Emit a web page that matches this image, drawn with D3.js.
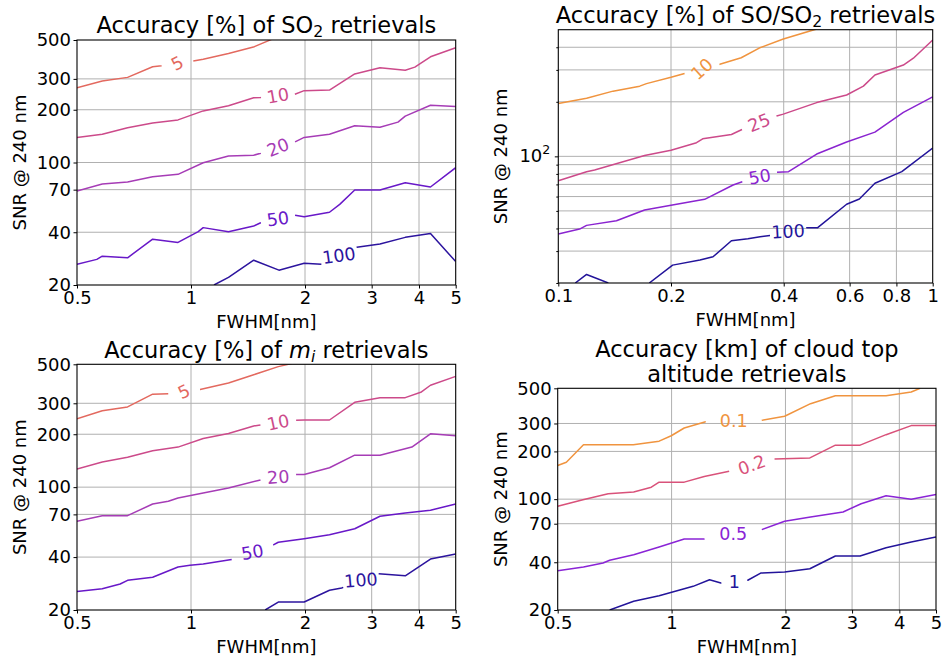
<!DOCTYPE html>
<html>
<head>
<meta charset="utf-8">
<script src="https://cdn.jsdelivr.net/npm/d3@7"></script>
<style>
body { margin: 0; background: #fff; }
svg text { font-family: "DejaVu Sans", sans-serif; }
</style>
</head>
<body>
<svg id="chart" width="944" height="660"></svg>
<script>
// ---- datos: [FWHM nm, SNR] ----

// SO2
const so2_5 = [[0.5,267],[0.583,292],[0.68,306],[0.792,352],[0.836,356],[1.013,379],[1.077,388],[1.256,419],[1.47,458],[1.633,504]];
const so2_10 = [[0.5,139],[0.583,145],[0.68,158],[0.792,168],[0.924,175],[1.077,197],[1.256,211],[1.464,234],[1.528,235],[1.88,245],[1.99,257],[2.321,259],[2.706,320],[3.155,347],[3.679,336],[3.9,350],[4.289,401],[5,452]];
const so2_20 = [[0.5,68.7],[0.583,75.4],[0.68,77.4],[0.792,82.9],[0.924,85.6],[1.077,99.7],[1.256,109],[1.464,110],[1.528,113],[1.88,131],[1.99,139],[2.321,145],[2.706,162],[3.155,159],[3.52,170],[3.679,184],[4.289,212],[5,209]];
const so2_50 = [[0.5,26.3],[0.564,28.0],[0.583,29.2],[0.68,28.6],[0.792,36.5],[0.924,35.0],[1.045,40.3],[1.077,42.5],[1.256,40.3],[1.464,43.4],[1.528,45.3],[1.88,50.0],[1.99,49.1],[2.321,52.0],[2.47,57.7],[2.706,69.7],[3.155,69.7],[3.679,76.7],[4.289,72.5],[5,93.4]];
const so2_100 = [[1.15,20],[1.256,22.1],[1.464,27.7],[1.707,24.3],[1.99,26.6],[2.21,26.3],[2.74,32.8],[3.155,34.3],[3.679,37.4],[4.289,39.4],[5,27.2]];

// SO/SO2
const soso2_10 = [[0.1,196],[0.119,209],[0.14,229],[0.165,244],[0.172,252],[0.2,273],[0.218,287],[0.27,322],[0.308,350],[0.344,396],[0.399,444],[0.49,505]];
const soso2_25 = [[0.1,73.4],[0.119,82.3],[0.125,84.1],[0.17,101],[0.2,108],[0.234,119],[0.243,125],[0.29,132],[0.315,143],[0.383,167],[0.399,171],[0.49,198],[0.589,218],[0.653,244],[0.701,281],[0.835,319],[0.888,348],[1.0,439]];
const soso2_50 = [[0.1,37.3],[0.114,39.7],[0.119,41.6],[0.143,44.1],[0.17,50.6],[0.2,53.7],[0.246,57.9],[0.293,69.5],[0.31,72.4],[0.383,81.7],[0.412,82.3],[0.49,103],[0.589,120],[0.701,136],[0.835,175],[1.0,213]];
const soso2_100a = [[0.111,20],[0.119,22.3],[0.136,20]];
const soso2_100b = [[0.175,20],[0.202,25.1],[0.239,26.8],[0.259,27.9],[0.29,34.2],[0.321,35.1],[0.346,36.0],[0.368,36.6],[0.461,40.4],[0.493,40.4],[0.589,54.4],[0.637,58.2],[0.701,71.0],[0.827,82.3],[1.0,111]];

// m_i
const mi_5 = [[0.5,245],[0.583,272],[0.68,286],[0.792,338],[0.871,340],[1.057,359],[1.256,391],[1.464,436],[1.70,485],[1.845,505]];
const mi_10 = [[0.5,127],[0.583,139],[0.68,148],[0.792,161],[0.924,169],[1.077,189],[1.256,202],[1.464,223],[1.528,226],[1.89,240],[1.99,241],[2.321,241],[2.706,304],[3.155,323],[3.679,323],[4.06,348],[4.289,380],[5,427]];
const mi_20 = [[0.5,63.9],[0.583,68.8],[0.68,68.8],[0.792,80.2],[0.871,83.1],[0.924,86.8],[1.077,92.6],[1.256,98.9],[1.528,110],[1.89,118],[1.99,118],[2.321,129],[2.706,152],[3.155,152],[3.83,169],[4.289,201],[5,196]];
const mi_50 = [[0.5,25.5],[0.583,26.4],[0.65,28.1],[0.68,29.5],[0.792,30.7],[0.924,35.1],[0.994,35.9],[1.077,36.5],[1.256,38.5],[1.28,38.7],[1.65,46.9],[1.70,48.6],[1.99,50.9],[2.321,53.6],[2.706,58.0],[3.155,68.3],[3.679,71.3],[4.289,73.9],[5,80.2]];
const mi_100 = [[1.57,20],[1.70,22.2],[1.99,22.2],[2.321,25.9],[2.50,26.7],[3.12,32.2],[3.679,31.3],[4.289,39.0],[5,41.7]];

// altitud de nubes
const cta_01 = [[0.5,163],[0.527,171],[0.585,220],[0.792,220],[0.927,232],[0.998,251],[1.08,281],[1.23,308],[1.73,314],[1.99,333],[2.33,400],[2.71,449],[3.69,449],[4.3,474],[4.54,500]];
const cta_02 = [[0.5,90.1],[0.583,99.2],[0.68,108],[0.794,111],[0.884,119],[0.927,128],[1.08,128],[1.22,139],[1.42,150],[1.87,179],[2.32,182],[2.71,219],[3.15,219],[3.69,255],[4.3,291],[5,291]];
const cta_05 = [[0.5,35.4],[0.585,37.3],[0.659,39.6],[0.686,41.2],[0.794,44.6],[0.927,49.9],[1.08,56.1],[1.22,56.1],[1.73,64.2],[1.99,72.5],[2.33,77.2],[2.84,83.0],[3.17,93.6],[3.69,105],[4.3,100],[5,107]];
const cta_1 = [[0.686,20],[0.794,22.7],[0.927,24.6],[1.08,27.2],[1.14,28.2],[1.26,31.0],[1.35,29.6],[1.59,30.8],[1.72,34.2],[1.99,34.7],[2.32,36.4],[2.71,43.8],[3.15,43.8],[3.69,49.4],[4.3,53.7],[5,57.7]];

// ticks
const snrTicks = [20, 40, 70, 100, 200, 300, 500];
const fwhmTicks = [0.5, 1, 2, 3, 4, 5];
const fwhmTicksFino = [0.1, 0.2, 0.4, 0.6, 0.8, 1];
const snrMayor = [100];
const snrMenor = [20, 30, 40, 50, 60, 70, 80, 90, 200, 300, 400];

const svg = d3.select("#chart");
const fs = 18;

// contour: piezas + etiqueta (at = FWHM del centro de la etiqueta, gap en px, rot en grados)
const paneles = [
  { id: 1, left: 77, right: 455.7, top: 40, bottom: 285, xDom: [0.5, 5], xTicks: fwhmTicks, fmt: d3.format("~g"),
    titulo: [["Accuracy [%] of SO"], ["2", "sub"], [" retrievals"]], tituloY: [33],
    contornos: [
      { txt: "5", color: "#e3695f", piezas: [so2_5], lab: { at: 0.921, gap: 32, rot: -28 } },
      { txt: "10", color: "#cc4a8a", piezas: [so2_10], lab: { at: 1.697, gap: 34, rot: -10 } },
      { txt: "20", color: "#a63cb6", piezas: [so2_20], lab: { at: 1.697, gap: 36, rot: -22 } },
      { txt: "50", color: "#6818c8", piezas: [so2_50], lab: { at: 1.697, gap: 35, rot: -8 } },
      { txt: "100", color: "#2c149e", piezas: [so2_100], lab: { at: 2.459, gap: 39, rot: -8 } }
    ] },
  { id: 2, left: 558.3, right: 932.7, top: 29.7, bottom: 283, xDom: [0.1, 1], xTicks: fwhmTicksFino, fmt: d3.format("~g"), potencia: true,
    titulo: [["Accuracy [%] of SO/SO"], ["2", "sub"], [" retrievals"]], tituloY: [23.3],
    contornos: [
      { txt: "10", color: "#f0943f", piezas: [soso2_10], lab: { at: 0.242, gap: 36, rot: -42 } },
      { txt: "25", color: "#cc4a8a", piezas: [soso2_25], lab: { at: 0.344, gap: 37, rot: -22 } },
      { txt: "50", color: "#8a24d0", piezas: [soso2_50], lab: { at: 0.345, gap: 36, rot: -10 } },
      { txt: "100", color: "#23149a", piezas: [soso2_100a, soso2_100b], lab: { at: 0.411, gap: 37, rot: -3, pieza: 1 } }
    ] },
  { id: 3, left: 77, right: 455.7, top: 364.3, bottom: 610, xDom: [0.5, 5], xTicks: fwhmTicks, fmt: d3.format("~g"),
    titulo: [["Accuracy [%] of "], ["m", "it"], ["i", "itsub"], [" retrievals"]], tituloY: [358.3],
    contornos: [
      { txt: "5", color: "#e3695f", piezas: [mi_5], lab: { at: 0.959, gap: 32, rot: -25 } },
      { txt: "10", color: "#cc4a8a", piezas: [mi_10], lab: { at: 1.70, gap: 36, rot: -12 } },
      { txt: "20", color: "#a63cb6", piezas: [mi_20], lab: { at: 1.70, gap: 36, rot: -4 } },
      { txt: "50", color: "#6818c8", piezas: [mi_50], lab: { at: 1.453, gap: 44, rot: -10 } },
      { txt: "100", color: "#2c149e", piezas: [mi_100], lab: { at: 2.81, gap: 38, rot: -5 } }
    ] },
  { id: 4, left: 557.7, right: 936, top: 388.3, bottom: 610, xDom: [0.5, 5], xTicks: fwhmTicks, fmt: d3.format("~g"),
    titulo: [["Accuracy [km] of cloud top"]], titulo2: "altitude retrievals", tituloY: [356.7, 381.7],
    contornos: [
      { txt: "0.1", color: "#f0943f", piezas: [cta_01], lab: { at: 1.46, gap: 56, rot: 0 } },
      { txt: "0.2", color: "#d9527a", piezas: [cta_02], lab: { at: 1.63, gap: 47, rot: -20 } },
      { txt: "0.5", color: "#8a24d6", piezas: [cta_05], lab: { at: 1.455, gap: 58, rot: 0 } },
      { txt: "1", color: "#23149a", piezas: [cta_1], lab: { at: 1.465, gap: 26, rot: 0 } }
    ] }
];

paneles.forEach(dibujarPanel);

function dibujarPanel(p) {
  const x = d3.scaleLog().domain(p.xDom).range([p.left, p.right]);
  const y = d3.scaleLog().domain([20, 500]).range([p.bottom, p.top]);
  const g = svg.append("g");

  const clipId = "clip" + p.id;
  svg.append("clipPath").attr("id", clipId).append("rect")
    .attr("x", p.left).attr("y", p.top)
    .attr("width", p.right - p.left).attr("height", p.bottom - p.top);

  // rejilla
  const gridY = p.potencia ? snrMayor.concat(snrMenor) : snrTicks;
  const grid = g.append("g").attr("stroke", "#b0b0b0").attr("stroke-width", 1);
  grid.selectAll("line.gy").data(gridY.filter(d => d > 20 && d < 500)).join("line")
    .attr("x1", p.left).attr("x2", p.right)
    .attr("y1", d => y(d)).attr("y2", d => y(d));
  grid.selectAll("line.gx").data(p.xTicks.filter(d => d > p.xDom[0] && d < p.xDom[1])).join("line")
    .attr("y1", p.top).attr("y2", p.bottom)
    .attr("x1", d => x(d)).attr("x2", d => x(d));

  // contornos
  const cg = g.append("g");
  p.contornos.forEach(c => {
    c.piezas.forEach((pts, k) => {
      const lab = (c.lab && (c.lab.pieza || 0) === k) ? c.lab : null;
      trazarContorno(cg, x, y, pts, c.color, lab, c.txt, clipId);
    });
  });

  // marco
  g.append("rect").attr("x", p.left).attr("y", p.top)
    .attr("width", p.right - p.left).attr("height", p.bottom - p.top)
    .attr("fill", "none").attr("stroke", "#000").attr("stroke-width", 1.1);

  // eje x
  const ax = g.append("g").attr("transform", `translate(0,${p.bottom})`)
    .call(d3.axisBottom(x).tickValues(p.xTicks).tickFormat(p.fmt).tickSize(3.5).tickSizeOuter(0).tickPadding(2.7));
  ax.select(".domain").remove();
  ax.selectAll("text").attr("font-size", fs).attr("font-family", "DejaVu Sans").attr("fill", "#000");

  // eje y
  if (p.potencia) {
    const ay = g.append("g").attr("transform", `translate(${p.left},0)`)
      .call(d3.axisLeft(y).tickValues(snrMayor).tickFormat("").tickSize(3.5).tickSizeOuter(0));
    ay.select(".domain").remove();
    const ay2 = g.append("g").attr("transform", `translate(${p.left},0)`)
      .call(d3.axisLeft(y).tickValues(snrMenor).tickFormat("").tickSize(2).tickSizeOuter(0));
    ay2.select(".domain").remove();
    const t = g.append("text").attr("x", p.left - 8).attr("y", y(100)).attr("dy", "0.32em")
      .attr("text-anchor", "end").attr("font-size", fs);
    t.append("tspan").text("10");
    t.append("tspan").attr("dy", -8).attr("font-size", fs * 0.7).text("2");
  } else {
    const ay = g.append("g").attr("transform", `translate(${p.left},0)`)
      .call(d3.axisLeft(y).tickValues(snrTicks).tickFormat(d3.format("d")).tickSize(3.5).tickSizeOuter(0).tickPadding(2.5));
    ay.select(".domain").remove();
    ay.selectAll("text").attr("font-size", fs).attr("font-family", "DejaVu Sans").attr("fill", "#000");
  }

  // etiquetas de ejes
  const cx = (p.left + p.right) / 2;
  g.append("text").attr("x", cx).attr("y", p.bottom + 43.3).attr("text-anchor", "middle")
    .attr("font-size", fs).text("FWHM[nm]");
  g.append("text").attr("transform", `translate(${p.left - 51},${(p.top + p.bottom) / 2}) rotate(-90)`)
    .attr("text-anchor", "middle").attr("font-size", fs).text("SNR @ 240 nm");

  // titulo
  const tt = g.append("text").attr("x", cx).attr("y", p.tituloY[0]).attr("text-anchor", "middle")
    .attr("font-size", 22.5);
  let bajado = false;
  p.titulo.forEach(([s, tipo]) => {
    const sp = tt.append("tspan").text(s);
    if (tipo === "sub" || tipo === "itsub") {
      sp.attr("dy", 4).attr("font-size", 22.5 * 0.7);
      bajado = true;
    } else if (bajado) {
      sp.attr("dy", -4);
      bajado = false;
    }
    if (tipo === "it" || tipo === "itsub") sp.attr("font-style", "italic");
  });
  if (p.titulo2) {
    g.append("text").attr("x", cx).attr("y", p.tituloY[1]).attr("text-anchor", "middle")
      .attr("font-size", 22.5).text(p.titulo2);
  }
}

function trazarContorno(g, x, y, pts, color, lab, txt, clipId) {
  const P = pts.map(d => [x(d[0]), y(d[1])]);
  const linea = d3.line();
  const dibujar = Q => g.append("path").attr("d", linea(Q))
    .attr("fill", "none").attr("stroke", color).attr("stroke-width", 1.5)
    .attr("stroke-linejoin", "round").attr("clip-path", `url(#${clipId})`);
  if (!lab) { dibujar(P); return; }

  const cum = [0];
  for (let i = 1; i < P.length; i++) {
    cum.push(cum[i - 1] + Math.hypot(P[i][0] - P[i - 1][0], P[i][1] - P[i - 1][1]));
  }
  const px = x(lab.at);
  let i = 0;
  while (i < P.length - 2 && P[i + 1][0] < px) i++;
  const t = (px - P[i][0]) / (P[i + 1][0] - P[i][0]);
  const s0 = cum[i] + t * (cum[i + 1] - cum[i]);
  const punto = s => {
    let j = 0;
    while (j < P.length - 2 && cum[j + 1] < s) j++;
    const u = (s - cum[j]) / (cum[j + 1] - cum[j]);
    return [P[j][0] + u * (P[j + 1][0] - P[j][0]), P[j][1] + u * (P[j + 1][1] - P[j][1])];
  };
  const sA = s0 - lab.gap / 2, sB = s0 + lab.gap / 2;
  const antes = P.filter((d, k) => cum[k] < sA).concat([punto(sA)]);
  const despues = [punto(sB)].concat(P.filter((d, k) => cum[k] > sB));
  dibujar(antes);
  dibujar(despues);

  const c = punto(s0);
  g.append("text")
    .attr("transform", `translate(${c[0]},${c[1]}) rotate(${lab.rot})`)
    .attr("text-anchor", "middle").attr("dominant-baseline", "central")
    .attr("font-size", 17.5).attr("fill", color).text(txt);
}
</script>
</body>
</html>
